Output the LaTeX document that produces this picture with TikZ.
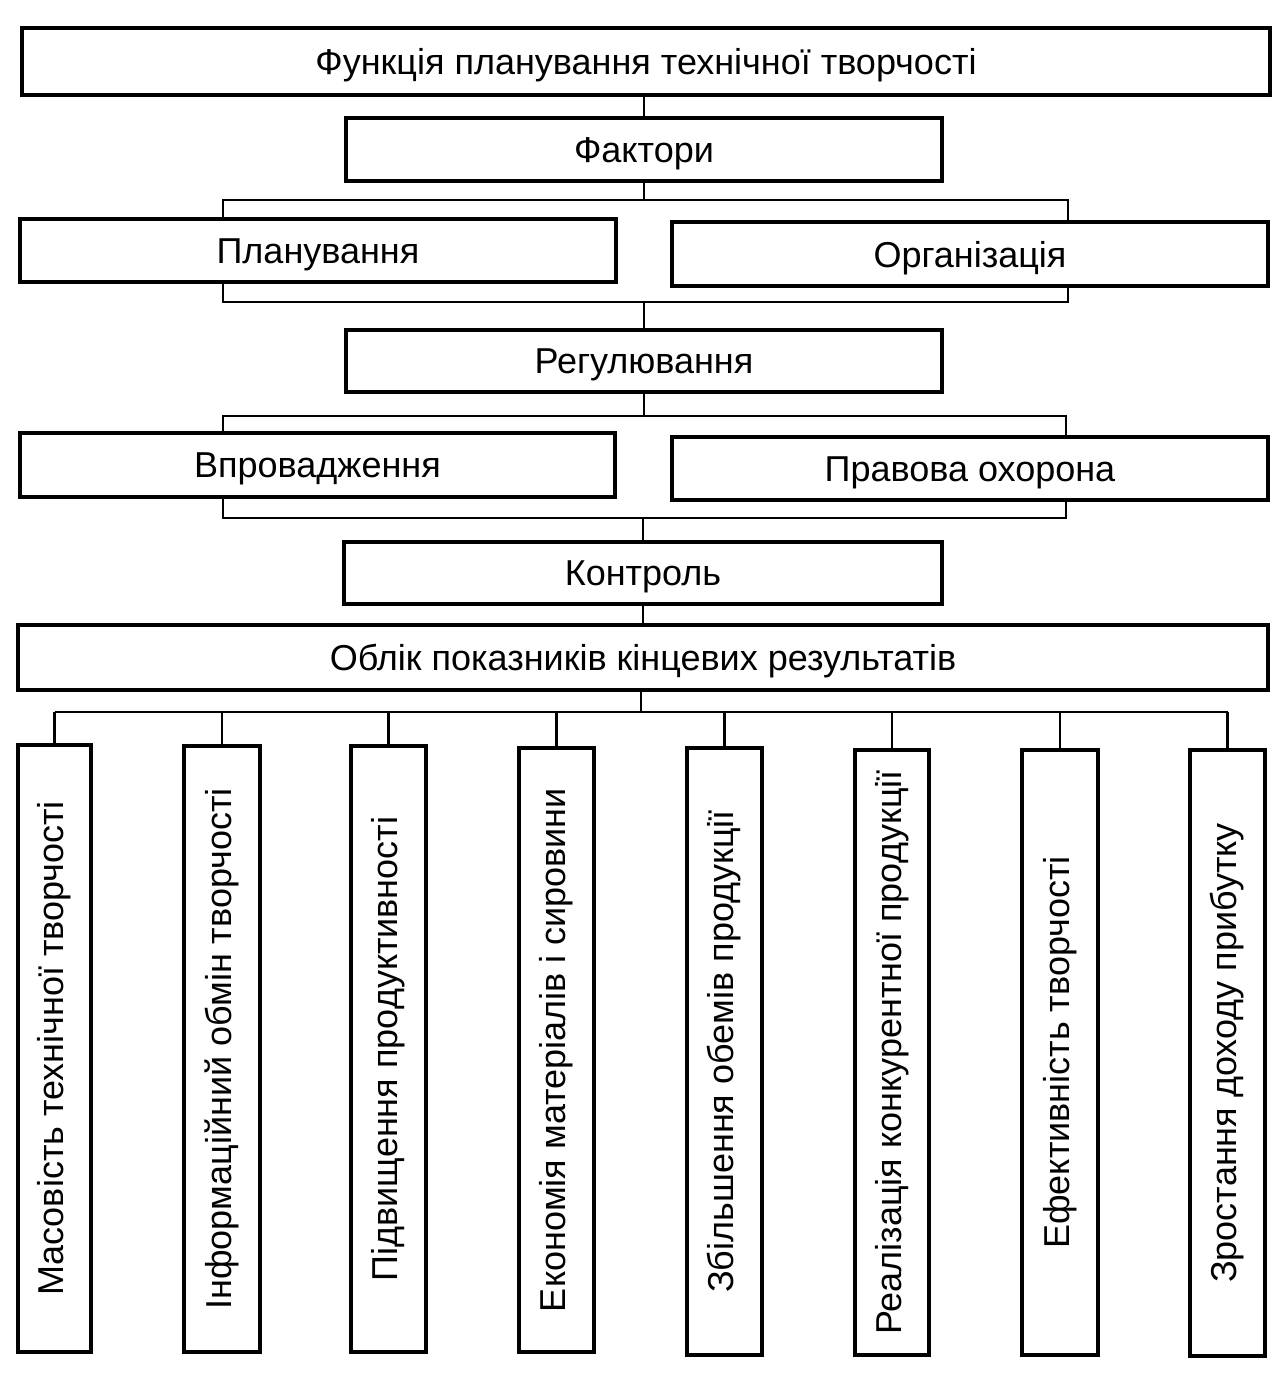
\documentclass[tikz,border=0pt]{standalone}
\usepackage{fontspec}
\setmainfont{Liberation Sans}
\usetikzlibrary{fit}
\begin{document}
\begin{tikzpicture}[x=0.5pt,y=-0.5pt,
  box/.style={draw, line width=1.8pt, inner sep=0pt},
  lbl/.style={inner sep=0pt, font=\fontsize{18}{21}\selectfont},
  conn/.style={line width=1.3pt}]
\useasboundingbox (0,0) rectangle (1279,1375);
\fill[white] (0,0) rectangle (1279,1375);
% upper chain
\node[box, fit={(22,28) (1270,95)}] (top) {};
\node[lbl] (top-t) at ([yshift=-2pt]top.center) {Функція планування технічної творчості};
\node[box, fit={(346,118) (942,181)}] (fak) {};
\node[lbl] (fak-t) at ([yshift=-2pt]fak.center) {Фактори};
\node[box, fit={(20,219) (616,282)}] (plan) {};
\node[lbl] (plan-t) at ([yshift=-2pt]plan.center) {Планування};
\node[box, fit={(672,222) (1268,286)}] (org) {};
\node[lbl] (org-t) at ([yshift=-2pt]org.center) {Організація};
\node[box, fit={(346,330) (942,392)}] (reg) {};
\node[lbl] (reg-t) at ([yshift=-2pt]reg.center) {Регулювання};
\node[box, fit={(20,433) (615,497)}] (vpr) {};
\node[lbl] (vpr-t) at ([yshift=-2pt]vpr.center) {Впровадження};
\node[box, fit={(672,437) (1268,500)}] (prav) {};
\node[lbl] (prav-t) at ([yshift=-2pt]prav.center) {Правова охорона};
\node[box, fit={(344,542) (942,604)}] (kon) {};
\node[lbl] (kon-t) at ([yshift=-2pt]kon.center) {Контроль};
\node[box, fit={(18,625) (1268,690)}] (obl) {};
\node[lbl] (obl-t) at ([yshift=-2pt]obl.center) {Облік показників кінцевих результатів};
% vertical boxes
\node[box, fit={(18,745) (91,1352)}] (v1) {};
\node[lbl, rotate=90] (v1-t) at (v1.center) {Масовість технічної творчості};
\node[box, fit={(184,746) (260,1352)}] (v2) {};
\node[lbl, rotate=90] (v2-t) at (v2.center) {Інформаційний обмін творчості};
\node[box, fit={(351,746) (426,1352)}] (v3) {};
\node[lbl, rotate=90] (v3-t) at (v3.center) {Підвищення продуктивності};
\node[box, fit={(519,748) (594,1352)}] (v4) {};
\node[lbl, rotate=90] (v4-t) at (v4.center) {Економія матеріалів і сировини};
\node[box, fit={(687,748) (762,1355)}] (v5) {};
\node[lbl, rotate=90] (v5-t) at (v5.center) {Збільшення обемів продукції};
\node[box, fit={(855,750) (929,1355)}] (v6) {};
\node[lbl, rotate=90] (v6-t) at (v6.center) {Реалізація конкурентної продукції};
\node[box, fit={(1022,750) (1098,1355)}] (v7) {};
\node[lbl, rotate=90] (v7-t) at (v7.center) {Ефективність творчості};
\node[box, fit={(1190,750) (1265,1356)}] (v8) {};
\node[lbl, rotate=90] (v8-t) at (v8.center) {Зростання доходу прибутку};
% connectors
\coordinate (b1L) at (223,200); \coordinate (b1R) at (1068,200);
\coordinate (b2L) at (223,302); \coordinate (b2R) at (1068,302);
\coordinate (b3L) at (223,416); \coordinate (b3R) at (1066,416);
\coordinate (b4L) at (223,518); \coordinate (b4R) at (1066,518);
\coordinate (bus) at (641,712);
\draw[conn] (top.south -| fak.north) -- (fak.north);
\draw[conn] (fak.south) -- (fak.south |- b1L);
\draw[conn] (plan.north -| b1L) -- (b1L) -- (b1R) -- (org.north -| b1R);
\draw[conn] (plan.south -| b2L) -- (b2L) -- (b2R) -- (org.south -| b2R);
\draw[conn] (reg.north |- b2L) -- (reg.north);
\draw[conn] (reg.south) -- (reg.south |- b3L);
\draw[conn] (vpr.north -| b3L) -- (b3L) -- (b3R) -- (prav.north -| b3R);
\draw[conn] (vpr.south -| b4L) -- (b4L) -- (b4R) -- (prav.south -| b4R);
\draw[conn] (kon.north |- b4L) -- (kon.north);
\draw[conn] (kon.south) -- (kon.south |- obl.north);
\draw[conn] (obl.south -| bus) -- (bus);
\draw[conn] (v1.north |- bus) -- (v8.north |- bus);
\foreach \v in {v1,v2,v3,v4,v5,v6,v7,v8}
  \draw[conn] (\v.north |- bus) -- (\v.north);
\end{tikzpicture}
\end{document}
